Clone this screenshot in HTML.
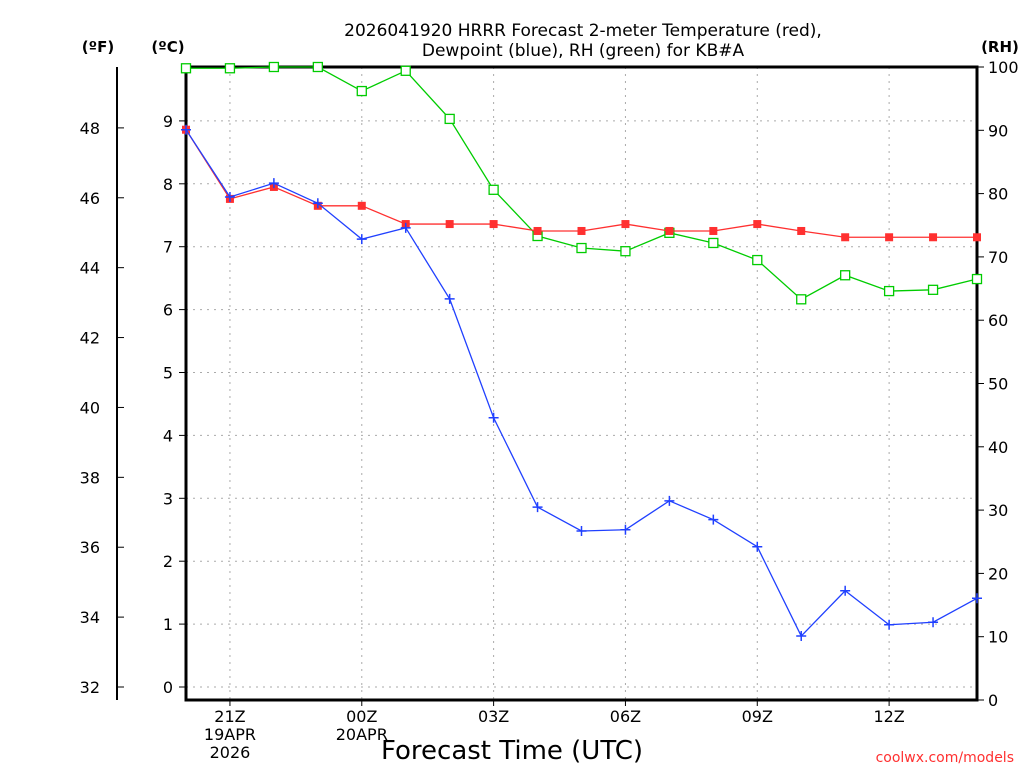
<!DOCTYPE html>
<html><head><meta charset="utf-8"><style>
html,body{margin:0;padding:0;background:#fff;}
svg{display:block;font-family:"DejaVu Sans","Liberation Sans",sans-serif;}
</style></head><body>
<svg id="chart" width="1024" height="768" viewBox="0 0 1024 768">
<text x="583" y="36" font-size="17" text-anchor="middle">2026041920 HRRR Forecast 2-meter Temperature (red),</text>
<text x="583" y="56" font-size="17" text-anchor="middle">Dewpoint (blue), RH (green) for KB#A</text>
<text x="98" y="52" font-size="15" font-weight="bold" text-anchor="middle">(ºF)</text>
<text x="168" y="52" font-size="15" font-weight="bold" text-anchor="middle">(ºC)</text>
<text x="1000" y="52" font-size="15" font-weight="bold" text-anchor="middle">(RH)</text>
<text x="512" y="759" font-size="26" text-anchor="middle">Forecast Time (UTC)</text>
<text x="1014" y="762" font-size="14" fill="#ff3030" text-anchor="end">coolwx.com/models</text>
<g id="grid"></g><g id="axes"></g><g id="series"></g>
</svg>
<script>
const hours = ["20Z","21Z","22Z","23Z","00Z","01Z","02Z","03Z","04Z","05Z","06Z","07Z","08Z","09Z","10Z","11Z","12Z","13Z","14Z"];
const tempC = [8.86,7.76,7.95,7.65,7.65,7.36,7.36,7.36,7.25,7.25,7.36,7.25,7.25,7.36,7.25,7.15,7.15,7.15,7.15];
const dewC = [8.86,7.79,8.01,7.69,7.12,7.30,6.17,4.28,2.86,2.48,2.50,2.96,2.66,2.23,0.81,1.53,0.99,1.03,1.41];
const rh = [99.8,99.8,100,100,96.2,99.4,91.8,80.6,73.3,71.4,70.9,73.8,72.2,69.5,63.3,67.1,64.6,64.8,66.5];
const xLabels = [{i:1,t:["21Z","19APR","2026"]},{i:4,t:["00Z","20APR"]},{i:7,t:["03Z"]},{i:10,t:["06Z"]},{i:13,t:["09Z"]},{i:16,t:["12Z"]}];
const cTicks = [0,1,2,3,4,5,6,7,8,9];
const fTicks = [32,34,36,38,40,42,44,46,48];
const rhTicks = [0,10,20,30,40,50,60,70,80,90,100];

const L=186,R=977,T=67,B=700;
const xs=i=>L+i*(R-L)/18;
const yC=c=>687-c*62.9;
const yF=f=>yC((f-32)/1.8);
const yR=r=>B-r*(B-T)/100;
const NS="http://www.w3.org/2000/svg";
function mk(tag,attrs,parent){const e=document.createElementNS(NS,tag);for(const k in attrs)e.setAttribute(k,attrs[k]);parent.appendChild(e);return e;}
const grid=document.getElementById('grid'),axes=document.getElementById('axes'),ser=document.getElementById('series');

cTicks.forEach(c=>{
  const l=mk('line',{x1:L,x2:R,y1:yC(c),y2:yC(c),stroke:'#aaa','stroke-dasharray':'2,5'},grid);
  
  
  const t=mk('line',{x1:L-7,x2:L,y1:yC(c),y2:yC(c),stroke:'#000'},axes);
  
  
  const tx=mk('text',{x:L-13,y:yC(c)+6,'font-size':16,'text-anchor':'end'},axes);tx.textContent=c;
  
  
});
xLabels.forEach(d=>{
  const x=xs(d.i);
  const l=mk('line',{x1:x,x2:x,y1:T,y2:B,stroke:'#aaa','stroke-dasharray':'2,5'},grid);
  
  
  const t=mk('line',{x1:x,x2:x,y1:B,y2:B+6,stroke:'#000'},axes);
  
  
  d.t.forEach((s,k)=>{const tx=mk('text',{x:x,y:722+k*18,'font-size':16,'text-anchor':'middle'},axes);tx.textContent=s;
    
    });
});
fTicks.forEach(f=>{
  const t=mk('line',{x1:117,x2:124,y1:yF(f),y2:yF(f),stroke:'#000'},axes);
  
  
  const tx=mk('text',{x:100,y:yF(f)+6,'font-size':16,'text-anchor':'end'},axes);tx.textContent=f;
  
  
});
rhTicks.forEach(r=>{
  const t=mk('line',{x1:R,x2:R+7,y1:yR(r),y2:yR(r),stroke:'#000'},axes);
  
  
  const tx=mk('text',{x:988,y:yR(r)+6,'font-size':16},axes);tx.textContent=r;
  
  
});
const fa=mk('line',{x1:117,x2:117,y1:67,y2:700,stroke:'#000','stroke-width':2},axes);


const fr=mk('rect',{x:L,y:T,width:R-L,height:B-T,fill:'none',stroke:'#000','stroke-width':3},axes);



function series(vals,yf,color,name,marker){
  const pts=vals.map((v,i)=>xs(i)+','+yf(v)).join(' ');
  const pl=mk('polyline',{points:pts,fill:'none',stroke:color,'stroke-width':1.3},ser);
  
  
  vals.forEach((v,i)=>{
    const x=xs(i),y=yf(v);let m;
    if(marker==='fill'){m=mk('rect',{x:x-4,y:y-4,width:8,height:8,fill:color},ser);}
    else if(marker==='hollow'){m=mk('rect',{x:x-4.5,y:y-4.5,width:9,height:9,fill:'#fff',stroke:color,'stroke-width':1.3},ser);}
    else {m=mk('path',{d:`M${x-5},${y}H${x+5}M${x},${y-5}V${y+5}`,stroke:color,'stroke-width':1.5},ser);}
    
    
  });
}
series(rh,yR,'#00cc00','rh','hollow');
series(tempC,yC,'#ff3030','temperature','fill');
series(dewC,yC,'#2040ff','dewpoint','plus');
</script>
</body></html>
